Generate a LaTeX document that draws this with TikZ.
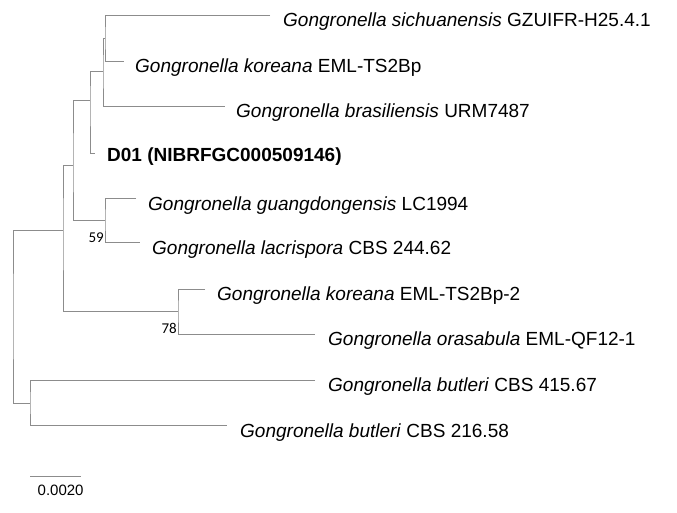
\documentclass[tikz,border=0pt]{standalone}
\usepackage{fontspec}
\usetikzlibrary{calc}
\setmainfont{Liberation Sans}
\newfontfamily\supfont{Carlito}
\begin{document}
\begin{tikzpicture}[x=1pt,y=-1pt,
  br/.style={draw=gray!90,line width=0.9pt},
  lab/.style={anchor=west,inner sep=0pt,font=\fontsize{19}{22}\selectfont},
  sup/.style={anchor=south east,inner sep=1pt,font=\supfont\fontsize{15}{17}\selectfont}]
\useasboundingbox (0,0) rectangle (677,512);
% leaf coordinates
\coordinate (l1) at (270,15);
\coordinate (l2) at (124,61);
\coordinate (l3) at (225,106);
\coordinate (l4) at (95,153);
\coordinate (l5) at (136,198);
\coordinate (l6) at (140,242);
\coordinate (l7) at (205,289);
\coordinate (l8) at (315,334);
\coordinate (l9) at (315,380);
\coordinate (l10) at (227,425);
% internal nodes
\coordinate (n12) at (105,38);
\coordinate (n123) at (103,71);
\coordinate (n1234) at (90,100);
\coordinate (n56) at (105,220);
\coordinate (nA) at (73,165);
\coordinate (n78) at (178,311);
\coordinate (nB) at (63,230);
\coordinate (n910) at (30,403);
\coordinate (root) at (13,316);
\draw[br] (l1) -| (n12) |- (l2);
\draw[br] (n12) -| (n123) |- (l3);
\draw[br] (n123) -| (n1234) |- (l4);
\draw[br] (l5) -| (n56) |- (l6);
\draw[br] (n1234) -| (nA) |- (n56);
\draw[br] (l7) -| (n78) |- (l8);
\draw[br] (nA) -| (nB) |- (n78);
\draw[br] (l9) -| (n910) |- (l10);
\draw[br] (nB) -| (root) |- (n910);
\node[lab] (t1) at ([xshift=13pt,yshift=-7pt]l1) {\textit{Gongronella sichuanensis} GZUIFR-H25.4.1};
\node[lab] (t2) at ([xshift=11pt,yshift=-7pt]l2) {\textit{Gongronella koreana} EML-TS2Bp};
\node[lab] (t3) at ([xshift=11pt,yshift=-7pt]l3) {\textit{Gongronella brasiliensis} URM7487};
\node[lab] (t4) at ([xshift=12pt,yshift=-4pt]l4) {\textbf{D01 (NIBRFGC000509146)}};
\node[lab] (t5) at ([xshift=12pt,yshift=-8pt]l5) {\textit{Gongronella guangdongensis} LC1994};
\node[lab] (t6) at ([xshift=12pt,yshift=-8pt]l6) {\textit{Gongronella lacrispora} CBS 244.62};
\node[lab] (t7) at ([xshift=12pt,yshift=-7pt]l7) {\textit{Gongronella koreana} EML-TS2Bp-2};
\node[lab] (t8) at ([xshift=13pt,yshift=-7pt]l8) {\textit{Gongronella orasabula} EML-QF12-1};
\node[lab] (t9) at ([xshift=13pt,yshift=-7pt]l9) {\textit{Gongronella butleri} CBS 415.67};
\node[lab] (t10) at ([xshift=13pt,yshift=-8pt]l10) {\textit{Gongronella butleri} CBS 216.58};
\node[sup] (s59) at ([yshift=-24pt]n56) {59};
\node[sup] (s78) at ([yshift=-24pt]n78) {78};
\coordinate (sb1) at (30,476);
\coordinate (sb2) at (81,476);
\draw[br] (sb1) -- (sb2);
\node[anchor=north,inner sep=0pt,font=\fontsize{15}{17}\selectfont] (sbl) at ([yshift=-9pt]$(sb1)!0.6!(sb2)$) {0.0020};
\end{tikzpicture}
\end{document}
